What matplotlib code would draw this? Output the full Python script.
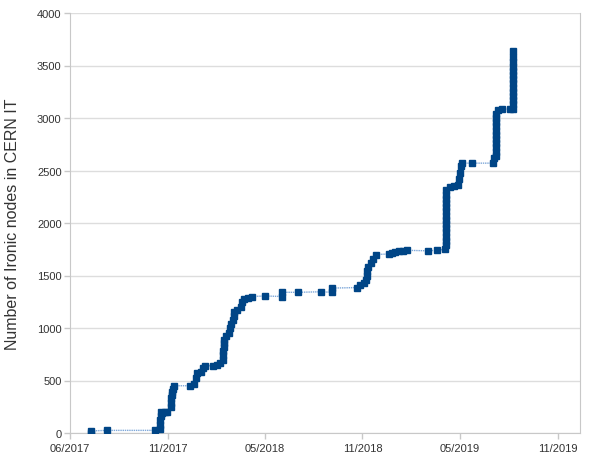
import matplotlib
matplotlib.use("Agg")
import matplotlib.pyplot as plt
import numpy as np

# x: days after the first axis tick (06/2017), y: number of Ironic nodes
days = [40, 40, 69, 160, 168, 168, 168, 170, 170, 172, 178, 181,
        189, 189, 189, 191, 191, 193, 195, 225, 232, 236, 238, 245,
        249, 253, 268, 275, 281, 286, 286, 286, 288, 288, 288, 292,
        298, 300, 302, 305, 307, 307, 313, 320, 322, 326, 333,
        341, 365, 397, 397, 427, 470, 490, 490, 537, 543,
        550, 554, 556, 556, 558, 564, 568, 573, 597, 603, 609,
        616, 623, 631, 670, 687, 702,
        704, 704, 704, 704, 704, 704, 704, 704, 704, 704, 704, 704, 704, 704,
        711, 719, 726, 728, 730, 732, 734, 753, 792, 794,
        798, 798, 798, 798, 798, 798, 798, 798, 798, 798, 798, 802,
        809, 824,
        829, 829, 829, 829, 829, 829, 829, 829, 829, 829, 829, 829, 829, 829]
nodes = [0, 20, 25, 25, 40, 80, 120, 160, 200, 190, 200,
         200, 250, 290, 330, 360, 390, 420, 450, 450, 470, 520, 570, 580,
         620, 640, 640, 645, 670, 700, 740, 780, 820, 860, 890, 920,
         950, 1000, 1040, 1080, 1110, 1150, 1170, 1200, 1250, 1280, 1290,
         1300, 1305, 1300, 1340, 1340, 1345, 1340, 1380, 1385, 1410,
         1430, 1460, 1500, 1540, 1580, 1620, 1660, 1700, 1705, 1715, 1725,
         1730, 1735, 1740, 1735, 1740, 1750,
         1790, 1830, 1870, 1910, 1950, 1990, 2030, 2070, 2110, 2150, 2190, 2230, 2270, 2310,
         2345, 2350, 2360, 2420, 2480, 2540, 2570, 2570, 2570, 2620,
         2640, 2680, 2720, 2760, 2800, 2840, 2880, 2920, 2960, 3000, 3040, 3080,
         3085, 3085,
         3090, 3130, 3170, 3210, 3250, 3290, 3330, 3370, 3410, 3450, 3490, 3530, 3580, 3640]

tick_labels = ["06/2017", "11/2017", "05/2018", "11/2018", "05/2019", "11/2019"]
tick_step = 182.5
y_ticks = [0, 500, 1000, 1500, 2000, 2500, 3000, 3500, 4000]

plt.rcParams["font.family"] = ["Liberation Sans", "DejaVu Sans"]

fig = plt.figure(figsize=(5.95, 4.6), dpi=100)
ax = fig.add_axes([70 / 595, 26 / 460, 510 / 595, 420 / 460])

ax.plot(days, nodes, color="#7da7d9", linewidth=1.0, linestyle=(0, (1, 0.6)),
        marker="s", markersize=4.6, markerfacecolor="#004586",
        markeredgecolor="#004586", zorder=3)

ax.set_xlim(0, 510 / 97.5 * tick_step)
ax.set_ylim(0, 4000)
ax.set_xticks(np.arange(len(tick_labels)) * tick_step)
ax.set_xticklabels(tick_labels)
ax.set_yticks(y_ticks)

ax.grid(axis="y", color="#dddddd", linewidth=1)
ax.set_axisbelow(True)
for side in ["left", "bottom", "right"]:
    ax.spines[side].set_color("#c8c8c8")
ax.spines["top"].set_visible(False)
ax.tick_params(colors="#c8c8c8", labelcolor="#333333", labelsize=8, length=4, width=1)
ax.tick_params(axis="y", pad=2)

ax.set_ylabel("Number of Ironic nodes in CERN IT", fontsize=11.5, color="#333333", labelpad=12)

fig.savefig("out.png", dpi=100)
